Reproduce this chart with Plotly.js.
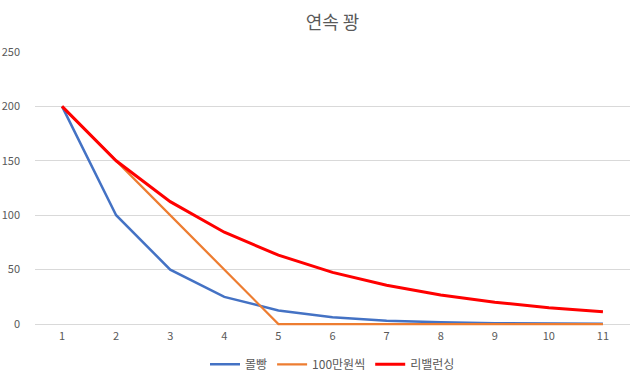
<!DOCTYPE html>
<html>
<head>
<meta charset="utf-8">
<script src="https://cdn.plot.ly/plotly-3.0.1.min.js"></script>
<style>html,body{margin:0;padding:0;background:#fff;}#chart{width:640px;height:383px;}</style>
</head>
<body>
<div id="chart"></div>
<script>
const categories = ["1","2","3","4","5","6","7","8","9","10","11"];
const allInValues = [200, 100, 50, 25, 12.5, 6.25, 3.13, 1.56, 0.78, 0.39, 0.2];
const fixedValues = [200, 150, 100, 50, 0, 0, 0, 0, 0, 0, 0];
const rebalanceValues = [200, 150, 112.5, 84.4, 63.3, 47.5, 35.6, 26.7, 20.0, 15.0, 11.3];
const seriesNames = ["몰빵", "100만원씩", "리밸런싱"];
const yTicks = [0, 50, 100, 150, 200, 250];

const font = '"Noto Sans CJK KR", "Noto Sans", sans-serif';
const traces = [
  {x: categories, y: allInValues, name: seriesNames[0], type: 'scatter', mode: 'lines', line: {color: '#4472C4', width: 2.5}},
  {x: categories, y: fixedValues, name: seriesNames[1], type: 'scatter', mode: 'lines', line: {color: '#ED7D31', width: 2.25}},
  {x: categories, y: rebalanceValues, name: seriesNames[2], type: 'scatter', mode: 'lines', line: {color: '#FF0000', width: 3}}
];
const layout = {
  width: 640, height: 383,
  margin: {l: 35, r: 10, t: 52, b: 57, autoexpand: false},
  paper_bgcolor: '#fff', plot_bgcolor: '#fff',
  font: {family: font, color: '#595959', size: 11},
  title: {text: '연속 꽝', font: {family: font, size: 18, color: '#595959'}, xref: 'paper', x: 0.5, xanchor: 'center', yref: 'container', y: 0.94, yanchor: 'middle'},
  xaxis: {type: 'category', range: [-0.5, 10.5], showgrid: false, zeroline: false, showline: false, ticks: '', ticklabelstandoff: 2, tickfont: {size: 11, color: '#595959'}, fixedrange: true},
  yaxis: {range: [-1.8, 250], tickvals: yTicks, ticktext: yTicks.map(String), showgrid: true, gridcolor: '#D9D9D9', gridwidth: 1, zeroline: true, zerolinecolor: '#D9D9D9', zerolinewidth: 1, showline: false, ticks: '', ticklabelstandoff: 14, tickfont: {size: 11, color: '#595959'}, fixedrange: true},
  showlegend: true,
  legend: {orientation: 'h', x: 0.5, xanchor: 'center', y: -0.14, yanchor: 'middle', font: {size: 12, color: '#595959'}, itemwidth: 30, traceorder: 'normal'}
};
Plotly.newPlot('chart', traces, layout, {displayModeBar: false, staticPlot: true});
</script>
</body>
</html>
